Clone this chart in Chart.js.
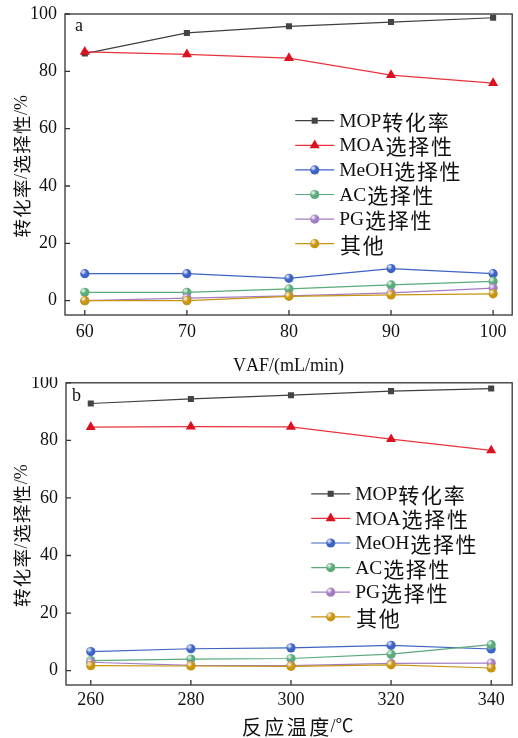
<!DOCTYPE html>
<html>
<head>
<meta charset="utf-8">
<script src="https://cdn.jsdelivr.net/npm/chart.js@4.4.1/dist/chart.umd.min.js"></script>
<style>
  body { margin: 0; background: #fff; }
  canvas { display: block; }
</style>
</head>
<body>
<canvas id="chartA" width="518" height="377"></canvas>
<canvas id="chartB" width="518" height="361"></canvas>
<script>
/* =========================
   DATA
========================= */

const seriesNames = ["MOP转化率", "MOA选择性", "MeOH选择性", "AC选择性", "PG选择性", "其他"];

const vafLabels = [60, 70, 80, 90, 100];
const tempLabels = [260, 280, 300, 320, 340];
const yTicks = [0, 20, 40, 60, 80, 100];

// panel a: VAF
const mopA   = [86.2, 93.4, 95.7, 97.2, 98.7];
const moaA   = [86.8, 85.9, 84.6, 78.7, 75.9];
const meohA  = [9.4, 9.4, 7.8, 11.2, 9.4];
const acA    = [2.9, 2.9, 4.1, 5.5, 6.7];
const pgA    = [0.0, 0.9, 1.7, 2.7, 4.4];
const otherA = [0.0, 0.0, 1.5, 2.0, 2.4];

// panel b: temperature
const mopB   = [92.8, 94.4, 95.7, 97.1, 98.0];
const moaB   = [84.6, 84.8, 84.7, 80.4, 76.5];
const meohB  = [6.6, 7.6, 7.9, 8.8, 7.5];
const acB    = [3.5, 4.0, 4.2, 5.7, 9.0];
const pgB    = [2.9, 1.8, 1.7, 2.5, 2.6];
const otherB = [1.7, 1.6, 1.5, 2.0, 0.9];

/* =========================
   STYLE
========================= */

const LATIN = "'Liberation Serif', serif";
const CJK = "'Noto Sans CJK SC', sans-serif";
const FONT = "'Liberation Serif', 'Noto Sans CJK SC', serif";
const AXIS_COLOR = "#333333";
const TEXT_COLOR = "#111111";

const seriesStyles = [
    { color: "#3f3f3f", fill: "#444444", pointStyle: "rect", radius: 4.3 },
    { color: "#e8323c", fill: "#dd1020", pointStyle: "triangle", radius: 5.8 },
    { color: "#3d63c4", fill: "#3d63c4", pointStyle: "circle", radius: 4.6 },
    { color: "#5aaa7a", fill: "#5aaa7a", pointStyle: "circle", radius: 4.6 },
    { color: "#a27dc4", fill: "#a27dc4", pointStyle: "circle", radius: 4.6 },
    { color: "#c7950e", fill: "#c7950e", pointStyle: "circle", radius: 4.6 }
];

/* =========================
   TEXT HELPER
   latin and CJK runs get their own size
========================= */

function isCjk(ch){
    const c = ch.charCodeAt(0);
    return (c >= 0x3000 && c <= 0x9fff) || (c >= 0xff00 && c <= 0xffef);
}

function drawMixed(ctx, text, x, y, t){
    const pieces = [];
    let total = 0;
    for(const ch of text){
        const cjk = isCjk(ch);
        ctx.font = cjk ? (t.cjk + "px " + CJK) : (t.latin + "px " + FONT);
        const w = ctx.measureText(ch).width + (cjk ? t.gap : 0);
        pieces.push({ ch: ch, cjk: cjk, w: w });
        total += w;
    }
    let cx = t.center ? x - total / 2 : x;
    ctx.textBaseline = "middle";
    ctx.textAlign = "left";
    pieces.forEach(p => {
        ctx.font = p.cjk ? (t.cjk + "px " + CJK) : (t.latin + "px " + FONT);
        ctx.fillText(p.ch, cx + (p.cjk ? t.gap / 2 : 0), y);
        cx += p.w;
    });
}

/* =========================
   PLUGINS
========================= */

// frame, inward ticks, axis titles, panel letter
const framePlugin = {
    id: "frame",
    afterDraw(chart){
        const ctx = chart.ctx;
        const area = chart.chartArea;
        const xs = chart.scales.x;
        const ys = chart.scales.y;
        const opts = chart.options.plugins.frame;
        ctx.save();
        ctx.strokeStyle = AXIS_COLOR;
        ctx.lineWidth = 1.3;
        ctx.strokeRect(area.left, area.top, area.right - area.left, area.bottom - area.top);
        ctx.beginPath();
        xs.ticks.forEach(t => {
            const px = xs.getPixelForValue(t.value);
            ctx.moveTo(px, area.bottom);
            ctx.lineTo(px, area.bottom - 5);
        });
        ys.ticks.forEach(t => {
            const py = ys.getPixelForValue(t.value);
            ctx.moveTo(area.left, py);
            ctx.lineTo(area.left + 5, py);
        });
        ctx.stroke();

        ctx.fillStyle = TEXT_COLOR;

        // panel letter
        ctx.font = "18px " + LATIN;
        ctx.textBaseline = "middle";
        ctx.fillText(opts.letter, area.left + opts.letterDx, area.top + opts.letterDy);

        // x title
        drawMixed(ctx, opts.xTitle, (area.left + area.right) / 2 + opts.xTitleDx, area.bottom + opts.xTitleDy,
            { latin: 18, cjk: 20, gap: 2.5, center: true });

        // y title, rotated
        ctx.save();
        ctx.translate(22, (area.top + area.bottom) / 2 + 2);
        ctx.rotate(-Math.PI / 2);
        drawMixed(ctx, opts.yTitle, 0, 0, { latin: 18, cjk: 18.5, gap: 1.2, center: true });
        ctx.restore();

        ctx.restore();
    }
};

// small highlight on the ball markers
function shine(ctx, x, y, r){
    const g = ctx.createRadialGradient(x - 1.5, y - 1.8, 0.3, x - 1.5, y - 1.8, 3.2);
    g.addColorStop(0, "rgba(255,255,255,0.85)");
    g.addColorStop(1, "rgba(255,255,255,0)");
    ctx.fillStyle = g;
    ctx.beginPath();
    ctx.arc(x, y, r, 0, Math.PI * 2);
    ctx.fill();
}

const shinePlugin = {
    id: "shine",
    afterDatasetDraw(chart, args){
        const ds = chart.data.datasets[args.index];
        if(ds.pointStyle !== "circle") return;
        const ctx = chart.ctx;
        ctx.save();
        args.meta.data.forEach(pt => shine(ctx, pt.x, pt.y, ds.pointRadius));
        ctx.restore();
    }
};

// legend with line + marker inside the plot
const legendPlugin = {
    id: "innerLegend",
    afterDraw(chart){
        const opts = chart.options.plugins.innerLegend;
        const ctx = chart.ctx;
        const area = chart.chartArea;
        const x0 = area.right - opts.fromRight;
        let y = area.top + opts.fromTop;
        ctx.save();
        chart.data.datasets.forEach(ds => {
            ctx.strokeStyle = ds.borderColor;
            ctx.lineWidth = 1.2;
            ctx.beginPath();
            ctx.moveTo(x0, y);
            ctx.lineTo(x0 + 39, y);
            ctx.stroke();
            ctx.fillStyle = ds.pointBackgroundColor;
            ctx.strokeStyle = ds.pointBackgroundColor;
            Chart.helpers.drawPoint(ctx, {
                pointStyle: ds.pointStyle,
                radius: ds.pointRadius,
                rotation: 0,
                borderWidth: 0
            }, x0 + 19.5, y);
            if(ds.pointStyle === "circle"){
                shine(ctx, x0 + 19.5, y, ds.pointRadius);
            }
            ctx.fillStyle = TEXT_COLOR;
            drawMixed(ctx, ds.label, x0 + 44, y + 1, { latin: 19.5, cjk: 21, gap: 1.7 });
            y += opts.rowGap;
        });
        ctx.restore();
    }
};

/* =========================
   CHART BUILDER
========================= */

function makeChart(canvasId, xLabels, seriesData, cfg){

    const datasets = seriesData.map((values, i) => {
        const st = seriesStyles[i];
        return {
            label: seriesNames[i],
            data: xLabels.map((x, j) => ({ x: x, y: values[j] })),
            borderColor: st.color,
            borderWidth: 1.2,
            pointStyle: st.pointStyle,
            pointRadius: st.radius,
            pointBackgroundColor: st.fill,
            pointBorderColor: st.fill,
            pointBorderWidth: 0,
            order: seriesData.length - i,
            tension: 0
        };
    });

    return new Chart(document.getElementById(canvasId), {
        type: "line",
        data: { datasets: datasets },
        options: {
            responsive: false,
            animation: false,
            layout: { padding: { top: cfg.padTop, right: 1, left: 0, bottom: 0 } },
            plugins: {
                legend: { display: false },
                tooltip: { enabled: false },
                frame: {
                    letter: cfg.letter,
                    letterDx: cfg.letterDx,
                    letterDy: cfg.letterDy,
                    xTitle: cfg.xTitle,
                    xTitleDx: cfg.xTitleDx,
                    xTitleDy: cfg.xTitleDy,
                    yTitle: "转化率/选择性/%"
                },
                innerLegend: { fromRight: cfg.legendFromRight, fromTop: cfg.legendFromTop, rowGap: 24.6 }
            },
            scales: {
                x: {
                    type: "linear",
                    min: cfg.xMin,
                    max: cfg.xMax,
                    afterBuildTicks: scale => {
                        scale.ticks = xLabels.map(v => ({ value: v }));
                    },
                    afterFit: scale => {
                        scale.height = cfg.xAxisHeight;
                        scale.paddingLeft = 0;
                        scale.paddingRight = 0;
                    },
                    grid: { display: false, drawTicks: false },
                    border: { display: false },
                    ticks: {
                        color: TEXT_COLOR,
                        padding: cfg.xTickPad,
                        maxRotation: 0,
                        font: { family: FONT, size: 18 }
                    }
                },
                y: {
                    min: -5,
                    max: 100,
                    afterBuildTicks: scale => {
                        scale.ticks = yTicks.map(v => ({ value: v }));
                    },
                    afterFit: scale => {
                        scale.width = cfg.yAxisWidth;
                        scale.paddingTop = 0;
                        scale.paddingBottom = 0;
                    },
                    grid: { display: false, drawTicks: false },
                    border: { display: false },
                    ticks: {
                        color: TEXT_COLOR,
                        padding: 8,
                        font: { family: FONT, size: 18 }
                    }
                }
            }
        },
        plugins: [shinePlugin, framePlugin, legendPlugin]
    });
}

document.addEventListener("DOMContentLoaded", () => {

    makeChart("chartA", vafLabels, [mopA, moaA, meohA, acA, pgA, otherA], {
        letter: "a",
        letterDx: 10,
        letterDy: 12,
        padTop: 14,
        xAxisHeight: 62,
        yAxisWidth: 65,
        xTickPad: 6,
        xMin: 58.06,
        xMax: 101.87,
        xTitle: "VAF/(mL/min)",
        xTitleDx: 0,
        xTitleDy: 51,
        legendFromRight: 217,
        legendFromTop: 106.7
    });

    makeChart("chartB", tempLabels, [mopB, moaB, meohB, acB, pgB, otherB], {
        letter: "b",
        letterDx: 6,
        letterDy: 13,
        padTop: 5,
        xAxisHeight: 53,
        yAxisWidth: 66,
        xTickPad: 4,
        xMin: 255.05,
        xMax: 344.2,
        xTitle: "反应温度/℃",
        xTitleDx: 8,
        xTitleDy: 42,
        legendFromRight: 201,
        legendFromTop: 111
    });

});
</script>
</body>
</html>
